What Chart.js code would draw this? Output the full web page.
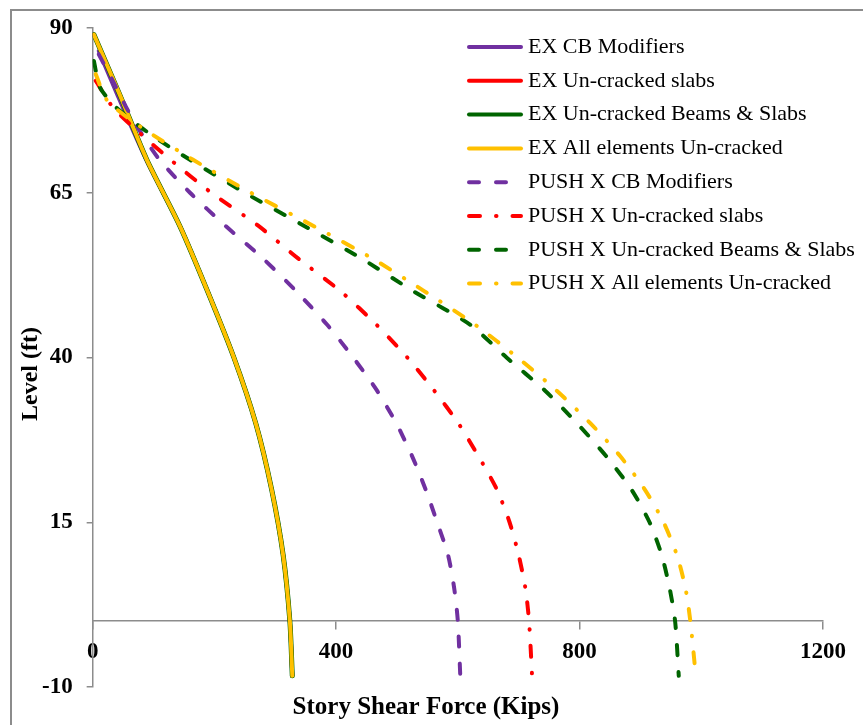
<!DOCTYPE html>
<html>
<head>
<meta charset="utf-8">
<script src="https://cdn.jsdelivr.net/npm/chart.js@4.4.0/dist/chart.umd.min.js"></script>
<style>
  html, body { margin: 0; padding: 0; background: #fff; }
  #wrap { position: relative; width: 863px; height: 725px; overflow: hidden; }
  #frame { position: absolute; left: 10px; top: 9px; width: 900px; height: 800px;
           border-left: 2px solid #8c8c8c; border-top: 2px solid #8c8c8c; }
  #box { position: absolute; left: 0; top: 0; width: 863px; height: 725px; }
</style>
</head>
<body>
<div id="wrap">
  <div id="frame"></div>
  <div id="box"><canvas id="myChart"></canvas></div>
</div>
<script>
// Datos: nivel (ft) y cortante de piso (Kips)
const seriesNames = [
  'EX CB Modifiers',
  'EX Un-cracked slabs',
  'EX Un-cracked Beams & Slabs',
  'EX All elements Un-cracked',
  'PUSH X CB Modifiers',
  'PUSH X Un-cracked slabs',
  'PUSH X Un-cracked Beams & Slabs',
  'PUSH X All elements Un-cracked'
];

// EX (lineas continuas)
const exCbLevels = [86.5, 80, 70, 60, 50, 40, 30, 20, 10, 0, -8.3];
const exCbShear  = [10, 40, 88, 143, 189, 232, 268, 294, 313, 324, 328];
const exLevels   = [89, 80, 70, 60, 50, 40, 30, 20, 10, 0, -8.3];
const exSlabsShear = [2, 44, 89, 143, 189, 232, 268, 294, 313, 324, 328];
const exBeamsShear = [2, 44, 89, 143, 189, 232, 268, 294, 313, 324, 328];
const exAllShear   = [2, 44, 89, 143, 189, 232, 268, 294, 313, 324, 328];

// PUSH X (lineas discontinuas)
const pushCbLevels = [86, 82, 78, 74, 70, 65, 60, 55, 50, 45, 40, 35, 30, 25, 20, 15, 10, 5, 0, -8.3];
const pushCbShear  = [10, 33, 55, 80, 110, 160, 218, 280, 335, 385, 428, 467, 499, 525, 547, 566, 584, 594, 600, 604];
const pushSlabsLevels = [82, 78, 74, 70, 65, 60, 55, 50, 45, 40, 35, 30, 25, 20, 15, 10, 5, 0, -8.3];
const pushSlabsShear  = [5, 33, 78, 128, 195, 272, 338, 408, 466, 517, 561, 601, 634, 664, 685, 700, 711, 717, 722];
const pushBeamsLevels = [85, 81, 78, 74, 70, 65, 60, 55, 50, 45, 40, 35, 30, 25, 20, 15, 10, 5, 0, -8.3];
const pushBeamsShear  = [2, 12, 38, 93, 160, 250, 347, 442, 528, 620, 680, 743, 796, 844, 885, 915, 935, 948, 957, 963];
const pushAllLevels = [83, 79, 75, 70, 65, 60, 55, 50, 45, 40, 35, 30, 25, 20, 15, 10, 5, 0, -8.3];
const pushAllShear  = [5, 24, 79, 165, 260, 362, 460, 546, 628, 698, 762, 818, 867, 907, 938, 960, 974, 982, 991];

// Ticks de los ejes
const xTicks = [0, 400, 800, 1200];
const yTicks = [-10, 15, 40, 65, 90];

const colors = ['#7030A0', '#FF0000', '#006400', '#FFC000'];
const dashed = [10, 17];
const dashDot = [11, 16, 0.5, 16];

function pts(shear, levels) {
  return shear.map((v, i) => ({ x: v, y: levels[i] }));
}

const seriesData = [
  pts(exCbShear, exCbLevels),
  pts(exSlabsShear, exLevels),
  pts(exBeamsShear, exLevels),
  pts(exAllShear, exLevels),
  pts(pushCbShear, pushCbLevels),
  pts(pushSlabsShear, pushSlabsLevels),
  pts(pushBeamsShear, pushBeamsLevels),
  pts(pushAllShear, pushAllLevels)
];

const dashes = [[], [], [], [], dashed, dashDot, dashed, dashDot];

const datasets = seriesData.map((d, i) => ({
  label: seriesNames[i],
  data: d,
  borderColor: colors[i % 4],
  backgroundColor: colors[i % 4],
  borderWidth: i === 2 ? 5 : 4,
  borderDash: dashes[i],
  borderCapStyle: 'round',
  pointRadius: 0,
  showLine: true,
  tension: 0.25,
  order: 8 - i
}));

// Leyenda y titulos de ejes dibujados a mano
const extras = {
  id: 'extras',
  afterDraw(chart) {
    const ctx = chart.ctx;
    ctx.save();
    ctx.font = '22px "Liberation Serif"';
    ctx.textBaseline = 'middle';
    ctx.textAlign = 'left';
    chart.data.datasets.forEach((ds, i) => {
      const y = 47 + i * 33.8;
      ctx.strokeStyle = ds.borderColor;
      ctx.lineWidth = 4;
      ctx.lineCap = 'round';
      ctx.setLineDash(ds.borderDash);
      ctx.beginPath();
      ctx.moveTo(469, y);
      ctx.lineTo(521, y);
      ctx.stroke();
      ctx.fillStyle = '#000';
      ctx.fillText(ds.label, 528, y);
    });
    ctx.setLineDash([]);
    ctx.fillStyle = '#000';
    ctx.textAlign = 'center';
    ctx.font = 'bold 25px "Liberation Serif"';
    ctx.fillText('Story Shear Force (Kips)', 426, 708);
    ctx.translate(31, 374);
    ctx.rotate(-Math.PI / 2);
    ctx.font = 'bold 24px "Liberation Serif"';
    ctx.fillText('Level (ft)', 0, 0);
    ctx.restore();
  }
};

const tickFont = { family: 'Liberation Serif', size: 23, weight: 'bold' };

new Chart(document.getElementById('myChart').getContext('2d'), {
  type: 'scatter',
  data: { datasets: datasets },
  options: {
    responsive: true,
    maintainAspectRatio: false,
    animation: false,
    layout: { padding: { left: 28, right: 40, top: 28, bottom: 38 } },
    plugins: {
      legend: { display: false },
      tooltip: { enabled: false }
    },
    scales: {
      x: {
        type: 'linear',
        position: { y: 0 },
        min: xTicks[0],
        max: xTicks[xTicks.length - 1],
        afterBuildTicks: (axis) => { axis.ticks = xTicks.map(v => ({ value: v })); },
        grid: { drawOnChartArea: false, tickLength: 8, color: '#8c8c8c', lineWidth: 1.5 },
        border: { color: '#8c8c8c', width: 1.5 },
        ticks: { color: '#000', font: tickFont, padding: 9, maxRotation: 0, callback: (v) => String(v) }
      },
      y: {
        type: 'linear',
        min: yTicks[0],
        max: yTicks[yTicks.length - 1],
        afterBuildTicks: (axis) => { axis.ticks = yTicks.map(v => ({ value: v })); },
        grid: { drawOnChartArea: false, tickLength: 6, color: '#8c8c8c', lineWidth: 1.5 },
        border: { color: '#8c8c8c', width: 1.5 },
        ticks: { color: '#000', font: tickFont, padding: 14, callback: (v) => String(v) }
      }
    }
  },
  plugins: [extras]
});
</script>
</body>
</html>
